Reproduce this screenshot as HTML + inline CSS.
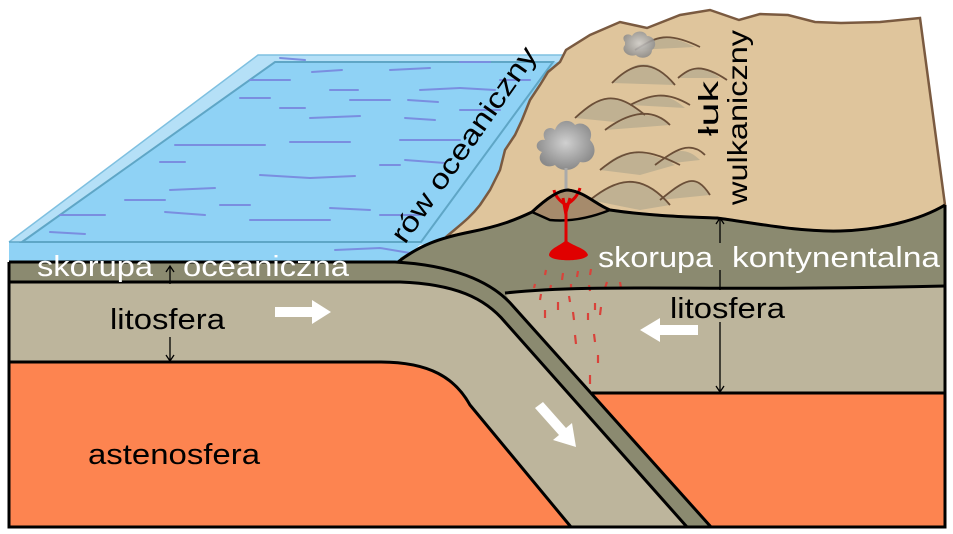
<!DOCTYPE html>
<html><head><meta charset="utf-8"><style>
html,body{margin:0;padding:0;background:#fff}
svg{display:block}
text{font-family:"Liberation Sans",Arial,sans-serif}
</style></head><body>
<svg width="953" height="534" viewBox="0 0 953 534" xmlns="http://www.w3.org/2000/svg">
<defs>
<radialGradient id="sm" cx="0.5" cy="0.45" r="0.55"><stop offset="0" stop-color="#d0d0d0"/><stop offset="1" stop-color="#8a8a8a"/></radialGradient>
</defs>
<rect x="9" y="262" width="936" height="265" fill="#fd8450"/>
<!-- water -->
<path d="M9,242 L258,55 L580,55 L462,237 L420,245 L400,262 L9,262 Z" fill="#8fd2f5"/>
<path d="M9,242 L258,55 L580,55 L566,62 L275,62 L22,242 Z" fill="#b5e0f7"/>
<path d="M22,242 L275,62 L553,62 L421,242 Z" fill="none" stroke="#5fa6c6" stroke-width="2"/>
<path d="M9,242 L258,55 L580,55" fill="none" stroke="#7fc0e0" stroke-width="1.5"/>
<path d="M9,242 L420,242" stroke="#5fa6c6" stroke-width="1.5"/>
<g stroke="#7a8ee0" stroke-width="2" fill="none" stroke-linecap="round">
<path d="M280,58 l25,2"/><path d="M312,72 l30,-2"/><path d="M390,70 l40,-2"/><path d="M460,62 l30,0"/><path d="M500,80 l30,0"/>
<path d="M250,80 l40,0"/><path d="M330,90 l28,0"/><path d="M420,90 l40,-2"/><path d="M460,88 l35,2"/>
<path d="M240,98 l30,0"/><path d="M280,108 l25,0"/><path d="M350,100 l40,0"/><path d="M408,100 l30,2"/><path d="M460,110 l40,0"/>
<path d="M310,118 l50,-2"/><path d="M405,118 l30,2"/><path d="M175,145 l90,0"/><path d="M290,142 l60,0"/><path d="M400,140 l60,0"/>
<path d="M160,162 l25,0"/><path d="M260,175 l50,3"/><path d="M310,178 l45,-2"/><path d="M405,160 l40,3"/><path d="M380,165 l20,0"/><path d="M170,190 l45,-2"/>
<path d="M125,200 l40,0"/><path d="M220,205 l30,0"/><path d="M330,208 l40,2"/><path d="M250,220 l80,0"/><path d="M165,212 l40,3"/>
<path d="M60,215 l45,0"/><path d="M50,232 l35,2"/><path d="M380,215 l40,0"/><path d="M335,250 l45,-2 l30,5"/>
</g>
<!-- left lithosphere -->
<path d="M9,282 L400,282 C455,284 485,298 505,322 L687,527 L571,527 L470,405 C455,378 430,362 380,362 L9,362 Z" fill="#bdb59c"/>
<!-- right lithosphere -->
<path d="M500,293 C600,283 700,292 945,286 L945,393 L592,393 Z" fill="#bdb59c"/>
<!-- continental crust -->
<path d="M400,258 C420,245 440,238 470,232 C500,226 515,220 532,212 C548,197 560,190 568,190 C585,192 595,204 610,210 C650,216 690,217 717,218 C760,224 800,232 840,231 C880,230 920,220 945,205 L945,286 C700,292 600,283 505,293 L515,310 L470,275 L400,262 Z" fill="#8b8a70"/>
<!-- slab crust -->
<path d="M9,262 L395,262 C450,265 490,280 512,305 L711,527 L687,527 L505,322 C485,298 455,284 400,282 L9,282 Z" fill="#8b8a70"/>
<!-- tan land -->
<path d="M446,237 C460,225 470,218 480,205 L490,190 L500,170 L505,150 L515,135 L522,120 L530,100 L540,85 L548,72 L560,62 L566,50 L590,35 L620,22 L647,28 L680,15 L710,10 L739,20 L760,14 L788,15 L815,22 L841,23 L880,22 L920,18 L945,205 C920,220 880,230 840,231 C800,232 760,224 717,218 C690,217 650,216 610,210 C595,204 585,192 568,190 C560,190 548,197 532,212 C515,220 500,226 470,232 Z" fill="#dfc59c" stroke="#7a5a40" stroke-width="2.5"/>
<path d="M532,212 C548,197 560,190 568,190 C585,192 595,204 610,210 C590,218 570,222 550,220 Z" fill="#a68b6c" stroke="#000" stroke-width="2.5"/>
<g fill="#b9ad90" opacity="0.8">
<path d="M590,200 C615,180 640,170 670,205 L640,210 Z"/><path d="M660,200 C680,180 695,172 710,195 Z"/>
<path d="M600,170 C620,150 635,145 675,165 L640,175 Z"/><path d="M655,165 C670,150 685,145 700,160 Z"/>
<path d="M575,118 C600,95 615,90 645,115 L615,122 Z"/><path d="M605,130 C630,115 650,108 670,125 Z"/><path d="M630,105 C650,95 665,90 685,108 Z"/>
<path d="M612,83 C635,60 650,55 675,85 Z"/><path d="M680,78 C690,68 700,62 720,78 Z"/><path d="M635,50 C655,38 665,32 695,47 Z"/>
</g>
<g fill="none" stroke="#6b4f38" stroke-width="1.8">
<path d="M590,200 C615,180 640,170 670,205"/><path d="M660,200 C685,180 695,172 710,195"/>
<path d="M600,170 C625,150 640,145 680,165"/><path d="M655,165 C675,150 690,140 705,155"/>
<path d="M575,118 C600,95 615,90 645,115"/><path d="M605,130 C625,115 650,105 670,125"/><path d="M630,105 C650,95 665,90 690,105"/>
<path d="M612,83 C630,65 650,55 675,85"/><path d="M678,78 C690,68 700,62 727,80"/><path d="M635,50 C655,38 665,30 700,47"/>
</g>
<path d="M545,140 C540,130 550,125 555,130 C558,120 570,118 575,125 C582,120 595,128 590,140 C600,150 592,165 580,162 C575,172 560,172 555,165 C545,170 535,160 542,152 C532,148 538,138 545,140 Z" fill="url(#sm)"/>
<path d="M625,42 C620,36 628,32 632,36 C635,30 645,30 647,36 C655,36 658,46 652,50 C652,58 640,60 636,55 C628,58 620,50 625,45 Z" fill="url(#sm)" opacity="0.85"/>
<path d="M566,168 L566,192" stroke="#aaa" stroke-width="3"/>
<g stroke="#e00000" stroke-width="3" fill="none">
<path d="M566,245 L566,205 C558,200 555,195 554,190"/><path d="M566,205 C574,200 578,195 580,188"/><path d="M566,215 L563,198"/><path d="M566,212 L570,198"/>
</g>
<path d="M566,240 C560,246 550,248 549,255 C550,262 585,262 588,255 C586,248 572,246 566,240 Z" fill="#e00000"/>
<g stroke="#d9423a" stroke-width="2.2">
<path d="M546,270 l-1,5"/><path d="M563,273 l-1,7"/><path d="M578,271 l-1,6"/><path d="M591,269 l-1,6"/>
<path d="M535,284 l-1,4"/><path d="M551,285 l-1,5"/><path d="M571,284 l0,6"/><path d="M589,285 l1,6"/><path d="M607,282 l-2,6"/><path d="M620,282 l1,6"/>
<path d="M541,294 l-1,6"/><path d="M558,302 l0,8"/><path d="M569,296 l1,6"/><path d="M595,303 l0,7"/>
<path d="M545,310 l0,8"/><path d="M573,312 l1,8"/><path d="M588,313 l0,7"/><path d="M601,307 l-1,8"/>
<path d="M575,335 l1,9"/><path d="M594,334 l1,8"/><path d="M598,355 l0,8"/><path d="M590,375 l0,9"/>
</g>
<g fill="none" stroke="#000" stroke-width="3">
<path d="M9,262 L395,262 C450,265 490,280 512,305 L711,527"/>
<path d="M9,282 L400,282 C455,284 485,298 505,322 L687,527"/>
<path d="M9,362 L380,362 C430,362 455,378 470,405 L571,527"/>
<path d="M398,262 C420,245 440,238 470,232 C500,226 515,220 532,212 C548,197 560,190 568,190 C585,192 595,204 610,210 C650,216 690,217 717,218 C760,224 800,232 840,231 C880,230 920,220 945,205"/>
<path d="M505,293 C600,283 700,292 945,286"/>
<path d="M592,393 L945,393"/>
<path d="M9,262 L9,527 L945,527 L945,205"/>
</g>
<text x="37" y="276" font-size="29" fill="#fff" textLength="116" lengthAdjust="spacingAndGlyphs">skorupa</text>
<text x="183" y="276" font-size="29" fill="#fff" textLength="166" lengthAdjust="spacingAndGlyphs">oceaniczna</text>
<text x="110" y="329" font-size="29" fill="#000" textLength="115" lengthAdjust="spacingAndGlyphs">litosfera</text>
<text x="88" y="464" font-size="29" fill="#000" textLength="172" lengthAdjust="spacingAndGlyphs">astenosfera</text>
<text x="598" y="267" font-size="29" fill="#fff" textLength="115" lengthAdjust="spacingAndGlyphs">skorupa</text>
<text x="732" y="267" font-size="29" fill="#fff" textLength="208" lengthAdjust="spacingAndGlyphs">kontynentalna</text>
<text x="670" y="318" font-size="29" fill="#000" textLength="115" lengthAdjust="spacingAndGlyphs">litosfera</text>
<text transform="translate(405,245) rotate(-55)" font-size="28" fill="#000" textLength="232" lengthAdjust="spacingAndGlyphs">rów oceaniczny</text>
<text transform="translate(718,136) rotate(-90)" font-size="28" fill="#000" textLength="55" lengthAdjust="spacingAndGlyphs">łuk</text>
<text transform="translate(747,205) rotate(-90)" font-size="28" fill="#000" textLength="175" lengthAdjust="spacingAndGlyphs">wulkaniczny</text>
<g stroke="#000" stroke-width="1.3" fill="none">
<path d="M170,284 L170,267 M166,272 L170,266 L174,272"/>
<path d="M170,337 L170,361 M166,355 L170,361 L174,355"/>
<path d="M720,243 L720,218 M716,224 L720,218 L724,224"/>
<path d="M720,322 L720,392 M716,386 L720,392 L724,386"/>
<path d="M720,270 L720,290"/>
</g>
<g fill="#fff">
<path d="M275,307 L312,307 L312,300 L331,312 L312,324 L312,317 L275,317 Z"/>
<path d="M698,325 L660,325 L660,318 L640,330 L660,342 L660,335 L698,335 Z"/>
<path d="M535,408 L543,402 L566,428 L572,423 L576,447 L553,440 L559,435 Z"/>
</g>
</svg>
</body></html>
